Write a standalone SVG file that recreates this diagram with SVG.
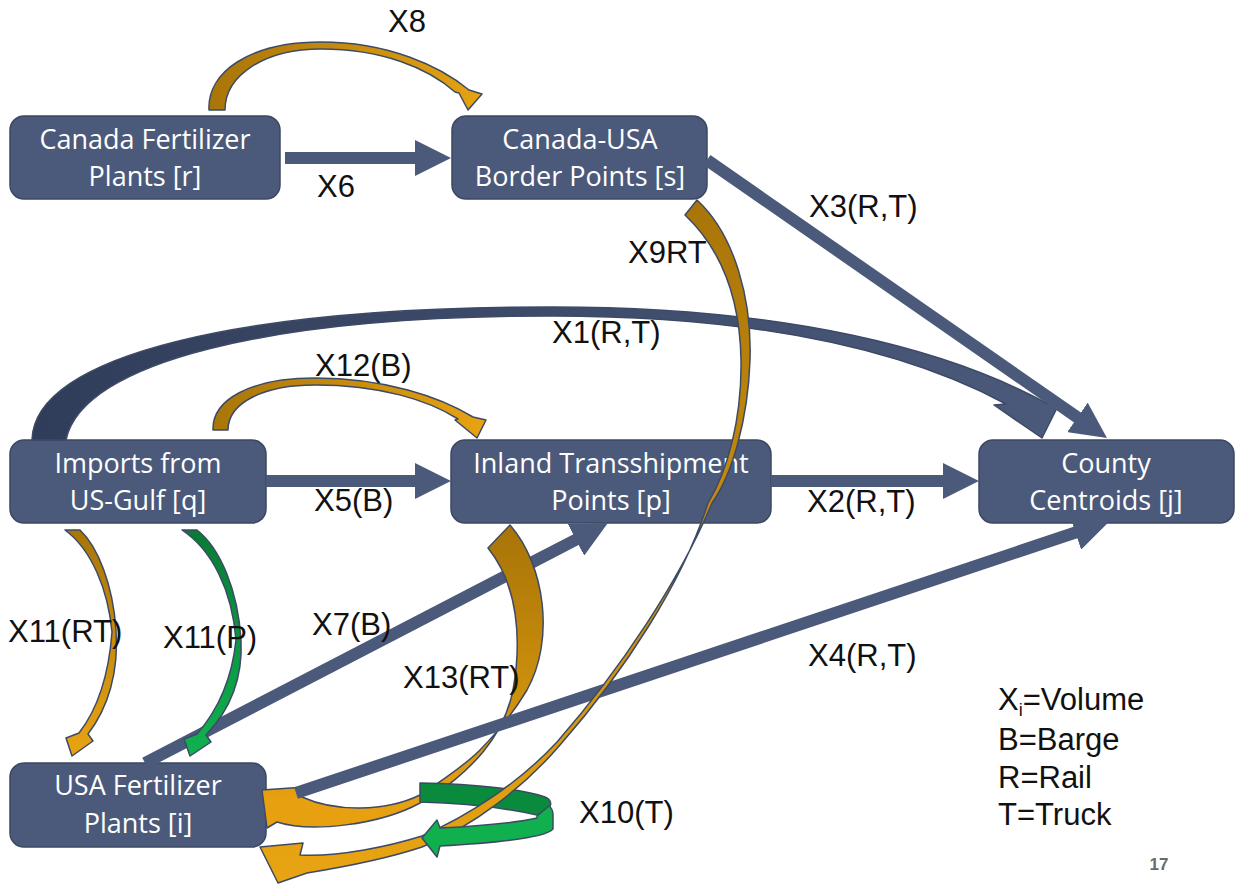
<svg xmlns="http://www.w3.org/2000/svg" width="1236" height="886" viewBox="0 0 1236 886">
  <style>
    .node rect { fill: #4b5a7b; stroke: #3c4862; stroke-width: 1.5; }
    .node text { font-family: "Open Sans", "Noto Sans", sans-serif; font-size: 27px; fill: #ffffff; text-anchor: middle; }
    .lbl { font-family: "Liberation Sans", Arial, sans-serif; font-size: 31px; fill: #111111; }
    .shaft { stroke: #4b5a7b; stroke-width: 12; fill: none; marker-end: url(#ah); }
    .ribbon { stroke: #3d4a66; stroke-width: 1.5; stroke-linejoin: round; }
  </style>
  <defs>
    <marker id="ah" markerUnits="userSpaceOnUse" markerWidth="36" markerHeight="36" viewBox="0 0 36 36" refX="8" refY="18" orient="auto">
      <path d="M0,0 L36,18 L0,36 Z" fill="#4b5a7b"/>
    </marker>
    <linearGradient id="gNavy" gradientUnits="userSpaceOnUse" x1="30" y1="0" x2="1060" y2="0">
      <stop offset="0" stop-color="#303d5a"/>
      <stop offset="1" stop-color="#4b5a7b"/>
    </linearGradient>
    <linearGradient id="gOrH2" gradientUnits="userSpaceOnUse" x1="210" y1="0" x2="490" y2="0">
      <stop offset="0" stop-color="#a87508"/>
      <stop offset="1" stop-color="#e8a412"/>
    </linearGradient>
    <linearGradient id="gOr9" gradientUnits="userSpaceOnUse" x1="0" y1="200" x2="0" y2="880">
      <stop offset="0" stop-color="#a87508"/>
      <stop offset="1" stop-color="#e8a412"/>
    </linearGradient>
    <linearGradient id="gOr13" gradientUnits="userSpaceOnUse" x1="0" y1="530" x2="0" y2="800">
      <stop offset="0" stop-color="#a87508"/>
      <stop offset="1" stop-color="#e6a010"/>
    </linearGradient>
    <linearGradient id="gOr11" gradientUnits="userSpaceOnUse" x1="0" y1="530" x2="0" y2="756">
      <stop offset="0" stop-color="#a87508"/>
      <stop offset="1" stop-color="#e8a412"/>
    </linearGradient>
    <linearGradient id="gGr11" gradientUnits="userSpaceOnUse" x1="0" y1="530" x2="0" y2="756">
      <stop offset="0" stop-color="#087a35"/>
      <stop offset="1" stop-color="#10b24f"/>
    </linearGradient>
  </defs>
  <rect x="0" y="0" width="1236" height="886" fill="#ffffff"/>

  <g id="node-canada" class="node">
    <rect x="10" y="116" width="270" height="83" rx="14"/>
    <text x="145" y="149">Canada Fertilizer</text>
    <text x="145" y="186">Plants [r]</text>
  </g>
  <g id="node-border" class="node">
    <rect x="452" y="116" width="255" height="83" rx="14"/>
    <text x="580" y="149">Canada-USA</text>
    <text x="580" y="186">Border Points [s]</text>
  </g>
  <g id="node-imports" class="node">
    <rect x="10" y="440" width="256" height="83" rx="14"/>
    <text x="138" y="473">Imports from</text>
    <text x="138" y="510">US-Gulf [q]</text>
  </g>
  <g id="node-inland" class="node">
    <rect x="451" y="440" width="320" height="83" rx="14"/>
    <text x="611" y="473">Inland Transshipment</text>
    <text x="611" y="510">Points [p]</text>
  </g>
  <g id="node-county" class="node">
    <rect x="979" y="440" width="255" height="83" rx="14"/>
    <text x="1106" y="473">County</text>
    <text x="1106" y="510">Centroids [j]</text>
  </g>
  <g id="node-usa" class="node">
    <rect x="10" y="763" width="256" height="84" rx="14"/>
    <text x="138" y="795">USA Fertilizer</text>
    <text x="138" y="833">Plants [i]</text>
  </g>

  <g id="connectors">
    <!-- X1 -->
    <path class="ribbon" fill="url(#gNavy)" d="M32,440 C34,355 240,307 552,307 C790,307 950,350 1048,404 L1058,406 L1042,438 L994,405 L1006,404 C920,358 780,316 552,316 C270,316 82,362 66,440 Z"/>
    <!-- X3 -->
    <line class="shaft" x1="707" y1="160" x2="1084" y2="422"/>
    <!-- X6 -->
    <line class="shaft" x1="285" y1="158" x2="423" y2="158"/>
    <!-- X5 -->
    <line class="shaft" x1="266" y1="481" x2="423" y2="481"/>
    <!-- X2 -->
    <line class="shaft" x1="771" y1="481" x2="951" y2="481"/>
    <!-- X8 -->
    <path class="ribbon" fill="url(#gOrH2)" d="M209,110 C207,72 250,42 321,42 C388,42 440,66 469,90 L482,94 L468,110 L459,93 L455,92 C428,68 382,49 321,49 C265,49 225,75 225,110 Z"/>
    <!-- X12 -->
    <path class="ribbon" fill="url(#gOrH2)" d="M213,430 C212,400 250,378 315,378 C385,378 440,397 473,417 L486,420 L477,438 L455,420 L458,419 C428,400 380,385 315,385 C265,385 228,402 228,430 Z"/>
    <!-- X7 -->
    <line class="shaft" x1="145" y1="763" x2="583" y2="536"/>
    <!-- X13 -->
    <path class="ribbon" fill="url(#gOr13)" d="M488,548 L510,525 C545,565 555,640 527,690 C512,715 495,735 480,750 C465,765 440,782 420,795 C385,812 335,812 302,797 L305,787 L262,790 L267,828 L277,822 C310,833 380,825 420,803 C445,790 468,770 483,752 C497,735 508,715 513,690 C522,640 518,585 488,548 Z"/>
    <!-- X4 -->
    <line class="shaft" x1="296" y1="793" x2="1083" y2="530"/>
    <!-- X10 back band -->
    <path class="ribbon" fill="#0a8a3d" d="M420,783 C480,784 525,790 545,797 C552,800 552,806 548,809 L537,815 C505,808 465,803 420,802 Z"/>
    <!-- X9 -->
    <path class="ribbon" fill="url(#gOr9)" d="M697,200 C735,235 752,300 750,360 C748,420 732,475 712,503 C680,580 620,670 557,742 C520,782 470,815 422,836 C390,846 340,857 300,855 L303,843 L260,847 L278,883 L307,873 C350,866 395,856 422,847 C474,826 524,787 560,745 C624,672 683,582 708,503 C727,472 742,420 741,360 C740,300 722,250 685,215 Z"/>
    <!-- X10 front band -->
    <path class="ribbon" fill="#10b04f" d="M537,816 L549,806 C552,808 553,812 553,815 L553,829 C545,838 495,843 440,846 L437,857 L422,838 L437,820 L440,828 C480,826 515,823 537,818 Z"/>
    <!-- X11 (RT) -->
    <path class="ribbon" fill="url(#gOr11)" d="M65,530 L80,530 C98,547 113,585 116,630 C119,672 108,708 88,734 L93,741 L72,756 L66,738 L79,733 C100,706 109,672 112,632 C108,590 92,550 65,530 Z"/>
    <!-- X11 (P) -->
    <path class="ribbon" fill="url(#gGr11)" d="M182,530 L197,530 C220,548 238,590 241,640 C243,680 228,712 206,735 L211,742 L190,756 L184,739 L197,734 C218,710 232,678 236,640 C232,590 212,550 182,530 Z"/>
  </g>

  <g id="labels">
    <text class="lbl" x="388" y="32">X8</text>
    <text class="lbl" x="317" y="197">X6</text>
    <text class="lbl" x="809" y="217">X3(R,T)</text>
    <text class="lbl" x="628" y="263">X9RT</text>
    <text class="lbl" x="552" y="343">X1(R,T)</text>
    <text class="lbl" x="315" y="376">X12(B)</text>
    <text class="lbl" x="314" y="511">X5(B)</text>
    <text class="lbl" x="807" y="512">X2(R,T)</text>
    <text class="lbl" x="312" y="635">X7(B)</text>
    <text class="lbl" x="808" y="666">X4(R,T)</text>
    <text class="lbl" x="403" y="688">X13(RT)</text>
    <text class="lbl" x="8" y="642">X11(RT)</text>
    <text class="lbl" x="163" y="648">X11(P)</text>
    <text class="lbl" x="579" y="823">X10(T)</text>
  </g>

  <g id="legend">
    <text class="lbl" x="998" y="710">X<tspan font-size="18" dy="6">i</tspan><tspan dy="-6">=Volume</tspan></text>
    <text class="lbl" x="998" y="750">B=Barge</text>
    <text class="lbl" x="998" y="788">R=Rail</text>
    <text class="lbl" x="998" y="825">T=Truck</text>
  </g>
  <text x="1159" y="870" font-family="Liberation Sans, Arial, sans-serif" font-size="17" font-weight="bold" fill="#6a6a6a" text-anchor="middle">17</text>
</svg>
